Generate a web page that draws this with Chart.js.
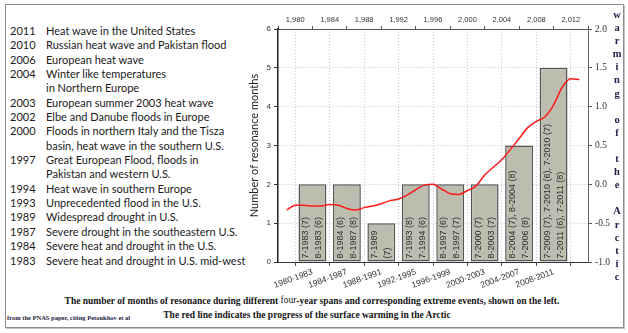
<!DOCTYPE html>
<html>
<head>
<meta charset="utf-8">
<script src="https://cdn.jsdelivr.net/npm/chart.js@4.4.1/dist/chart.umd.min.js"></script>
<style>
  body { margin: 0; background: #fff; width: 628px; height: 333px; overflow: hidden; }
  #frame { position: absolute; left: 5px; top: 4px; width: 617px; height: 322px; border: 1px solid #8c8c8c; box-shadow: 1px 1px 0 #c4c4c4; }
  #events { position: absolute; left: 0; top: 24px; font-family: Lato, "Open Sans", sans-serif; font-size: 11px; color: #1a1a1a; }
  .ev { position: relative; height: 14.35px; line-height: 14.35px; white-space: nowrap; }
  .ev .yr { position: absolute; left: 10px; }
  .ev .tx { position: absolute; left: 46px; }
  #chartBox { position: absolute; left: 240px; top: 0; }
  #arctic { position: absolute; left: 611px; top: 8px; width: 12px; text-align: center; font: bold 10.5px "Liberation Serif", serif; color: #1c1c48; }
  #arctic div { height: 13.1px; line-height: 13.1px; }
  .cap { position: absolute; width: 600px; text-align: center; font: bold 9.5px "Liberation Serif", serif; color: #151515; white-space: nowrap; }
  .cap .four { font-weight: normal; position: relative; top: -1px; }
  #src { position: absolute; left: 7px; top: 314px; font: bold 6.5px "Liberation Serif", serif; color: #1c1c40; white-space: nowrap; }
</style>
</head>
<body>
<div id="frame"></div>
<div id="events"></div>
<div id="chartBox"><canvas id="chart-area" width="372" height="292"></canvas></div>
<div id="arctic"></div>
<div class="cap" style="left:12px; top:296px;">The number of months of resonance during different <span class="four">four</span>-year spans and corresponding extreme events, shown on the left.</div>
<div class="cap" style="left:7px; top:310px;">The red line indicates the progress of the surface warming in the Arctic</div>
<div id="src">from the PNAS paper, citing Petoukhov et al</div>
<script>
// events listed on the left
var eventYears = ['2011', '2010', '2006', '2004', '2003', '2002', '2000', '1997', '1994', '1993', '1989', '1987', '1984', '1983'];
var eventTexts = [
    ['Heat wave in the United States'],
    ['Russian heat wave and Pakistan flood'],
    ['European heat wave'],
    ['Winter like temperatures', 'in Northern Europe'],
    ['European summer 2003 heat wave'],
    ['Elbe and Danube floods in Europe'],
    ['Floods in northern Italy and the Tisza', 'basin, heat wave in the southern U.S.'],
    ['Great European Flood, floods in', 'Pakistan and western U.S.'],
    ['Heat wave in southern Europe'],
    ['Unprecedented flood in the U.S.'],
    ['Widespread drought in U.S.'],
    ['Severe drought in the southeastern U.S.'],
    ['Severe heat and drought in the U.S.'],
    ['Severe heat and drought in U.S. mid-west']
];

// four-year spans and resonance months
var spans = ['1980-1983', '1984-1987', '1988-1991', '1992-1995', '1996-1999', '2000-2003', '2004-2007', '2008-2011'];
var resonance = [2, 2, 1, 2, 2, 2, 3, 5];
var monthLabels = [
    ['7-1983 (7)', '8-1983 (6)'],
    ['8-1984 (6)', '8-1987 (8)'],
    ['7-1989', '(7)'],
    ['7-1993 (8)', '7-1994 (6)'],
    ['8-1997 (6)', '8-1997 (7)'],
    ['7-2000 (7)', '8-2003 (7)'],
    ['8-2004 (7), 8-2004 (8)', '7-2006 (8)'],
    ['7-2009 (7), 7-2010 (6), 7-2010 (7)', '7-2011 (6), 7-2011 (8)']
];

// arctic surface warming (red line)
var arcticYears = [1979, 1980, 1981, 1982, 1983, 1984, 1985, 1986, 1987, 1988, 1989, 1990, 1991, 1992, 1993, 1994, 1995, 1996,
    1997, 1998, 1999, 2000, 2001, 2002, 2003, 2004, 2005, 2006, 2007, 2008, 2009, 2010, 2011, 2012, 2013];
var arcticWarming = [-0.33, -0.27, -0.27, -0.28, -0.28, -0.26, -0.27, -0.31, -0.33, -0.30, -0.28, -0.25, -0.21, -0.19, -0.14, -0.07, -0.01, 0.00,
    -0.06, -0.12, -0.13, -0.08, -0.02, 0.12, 0.22, 0.32, 0.45, 0.59, 0.73, 0.81, 0.87, 1.02, 1.25, 1.36, 1.35];

var topYears = [1980, 1984, 1988, 1992, 1996, 2000, 2004, 2008, 2012];
var axisTitle = 'Number of resonance months';
var rightTitle = 'warming of the Arctic';

// left list
var box = document.getElementById('events');
eventYears.forEach(function(y, i) {
    eventTexts[i].forEach(function(t, k) {
        var row = document.createElement('div');
        row.className = 'ev';
        row.innerHTML = '<span class="yr">' + (k === 0 ? y : '') + '</span><span class="tx"></span>';
        row.querySelector('.tx').textContent = t;
        box.appendChild(row);
    });
});

// stacked right title
var arc = document.getElementById('arctic');
rightTitle.split('').forEach(function(ch) {
    var d = document.createElement('div');
    d.textContent = ch === ' ' ? '\u00a0' : ch;
    arc.appendChild(d);
});

var spanMid = spans.map(function(s) {
    var p = s.split('-');
    return (parseInt(p[0], 10) + parseInt(p[1], 10) + 1) / 2;
});

var barText = {
    id: 'barText',
    afterDatasetDraw: function(chart, args) {
        if (args.index !== 0) return;
        var ctx = chart.ctx;
        ctx.save();
        ctx.font = '9px "Liberation Sans", Arial, sans-serif';
        ctx.fillStyle = '#2e2e2e';
        ctx.textAlign = 'left';
        ctx.textBaseline = 'middle';
        args.meta.data.forEach(function(bar, i) {
            monthLabels[i].forEach(function(t, k) {
                ctx.save();
                ctx.translate(bar.x - 6.5 + k * 13, bar.base - 3);
                ctx.rotate(-Math.PI / 2);
                ctx.fillText(t, 0, 0);
                ctx.restore();
            });
        });
        ctx.restore();
    }
};

var sans = '"Liberation Sans", Arial, sans-serif';

var config = {
    type: 'bar',
    data: {
        datasets: [{
            type: 'bar',
            data: spanMid.map(function(m, i) { return { x: m, y: resonance[i] }; }),
            xAxisID: 'x',
            yAxisID: 'y',
            backgroundColor: '#bdbdaf',
            borderColor: '#565656',
            borderWidth: 1.5,
            borderSkipped: false,
            grouped: false,
            categoryPercentage: 0.9,
            barPercentage: 0.9,
            order: 1
        }, {
            type: 'line',
            data: arcticYears.map(function(y, i) { return { x: y, y: arcticWarming[i] }; }),
            xAxisID: 'xTop',
            yAxisID: 'yR',
            borderColor: '#ff1a1a',
            borderWidth: 1.5,
            pointRadius: 0,
            fill: false,
            cubicInterpolationMode: 'monotone',
            order: 0
        }]
    },
    options: {
        responsive: false,
        animation: false,
        devicePixelRatio: 1,
        layout: { padding: 0 },
        plugins: { legend: { display: false }, tooltip: { enabled: false } },
        scales: {
            x: {
                type: 'linear', position: 'bottom', min: 1978, max: 2014, offset: false,
                afterBuildTicks: function(s) { s.ticks = spanMid.map(function(v) { return { value: v }; }); },
                afterFit: function(s) { s.height = 30; },
                ticks: {
                    autoSkip: false, minRotation: 20, maxRotation: 20, padding: 1,
                    font: { family: sans, size: 8.5 }, color: '#333',
                    callback: function(v, i) { return spans[i]; }
                },
                grid: { color: '#c4c4c4', tickColor: '#555', tickLength: 4 },
                border: { color: '#333', width: 1, dash: [1, 2] }
            },
            xTop: {
                type: 'linear', position: 'top', min: 1978, max: 2014, offset: false,
                afterBuildTicks: function(s) { s.ticks = topYears.map(function(v) { return { value: v }; }); },
                afterFit: function(s) { s.height = 29; },
                ticks: { autoSkip: false, maxRotation: 0, padding: 2, font: { family: sans, size: 7.5 }, color: '#333' },
                grid: { drawOnChartArea: false, tickColor: '#555', tickLength: 3 },
                border: { color: '#555', width: 1 }
            },
            y: {
                position: 'left', min: 0, max: 6,
                afterFit: function(s) { s.width = 38; },
                ticks: { stepSize: 1, padding: 3, font: { family: sans, size: 8 }, color: '#333' },
                grid: { color: '#c4c4c4', tickColor: '#333', tickLength: 4 },
                border: { color: '#222', width: 1.5, dash: [1, 2] },
                title: {
                    display: true, text: axisTitle, color: '#222',
                    font: { family: 'Lato, sans-serif', size: 11 },
                    padding: { top: 8, bottom: 0 }
                }
            },
            yR: {
                position: 'right', min: -1, max: 2,
                afterFit: function(s) { s.width = 24; },
                ticks: {
                    stepSize: 0.5, padding: 3, font: { family: '"Liberation Serif", serif', size: 9.5 }, color: '#333',
                    callback: function(v) { return v.toFixed(1); }
                },
                grid: { drawOnChartArea: false, tickColor: '#555', tickLength: 4 },
                border: { color: '#666', width: 1 }
            }
        }
    },
    plugins: [barText]
};

var ctx = document.getElementById('chart-area').getContext('2d');
window.myChart = new Chart(ctx, config);
</script>
</body>
</html>
